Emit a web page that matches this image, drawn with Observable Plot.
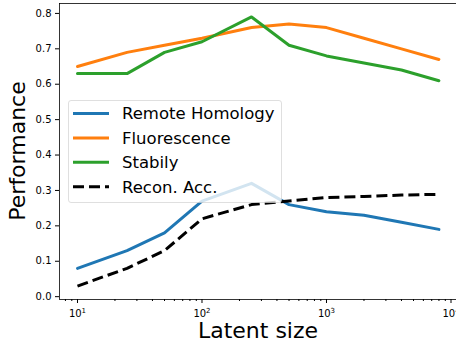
<!DOCTYPE html>
<html><head><meta charset="utf-8">
<script src="https://cdn.jsdelivr.net/npm/d3@7"></script>
<script src="https://cdn.jsdelivr.net/npm/@observablehq/plot@0.6"></script>
<style>body{margin:0;background:#fff;} #chart{width:456px;height:341px;overflow:hidden;}</style>
</head><body><div id="chart"></div>
<script>
const latentSizes = [10, 25, 50, 100, 250, 500, 1000, 2000, 4000, 8000];
const remoteHomology = [0.08, 0.13, 0.18, 0.27, 0.32, 0.26, 0.24, 0.23, 0.21, 0.19];
const fluorescence = [0.65, 0.69, 0.71, 0.73, 0.76, 0.77, 0.76, 0.73, 0.70, 0.67];
const stabily = [0.63, 0.63, 0.69, 0.72, 0.79, 0.71, 0.68, 0.66, 0.64, 0.61];
const reconAcc = [0.03, 0.08, 0.13, 0.22, 0.26, 0.27, 0.28, 0.283, 0.287, 0.289];
const seriesNames = ["Remote Homology", "Fluorescence", "Stabily", "Recon. Acc."];
const seriesColors = ["#1f77b4", "#ff7f0e", "#2ca02c", "#000000"];
const seriesDash = [null, null, null, "11,5"];
const yTicks = [0, 0.1, 0.2, 0.3, 0.4, 0.5, 0.6, 0.7, 0.8];
const xMajorTicks = [10, 100, 1000, 10000];
const xMinorTicks = [8, 9, 20, 30, 40, 50, 60, 70, 80, 90, 200, 300, 400, 500, 600, 700, 800, 900, 2000, 3000, 4000, 5000, 6000, 7000, 8000, 9000];
const xLabel = "Latent size";
const yLabel = "Performance";

const xDomain = [7.17, 11070];
const yDomain = [-0.008, 0.828];
const fmtPow = d => "10^" + Math.round(Math.log10(d));

const allSeries = [remoteHomology, fluorescence, stabily, reconAcc];
const rows = [];
allSeries.forEach((vals, i) => vals.forEach((v, j) => rows.push({series: seriesNames[i], x: latentSizes[j], y: v})));

const lineMarks = seriesNames.map((name, i) => Plot.line(rows.filter(r => r.series === name), {
  x: "x", y: "y", stroke: "series", strokeWidth: 3,
  strokeDasharray: seriesDash[i] || undefined,
  strokeLinecap: seriesDash[i] ? "butt" : "round"
}));

const chart = Plot.plot({
  width: 456, height: 341,
  marginLeft: 59, marginRight: 0, marginTop: 3, marginBottom: 42,
  style: {fontFamily: "DejaVu Sans", fontSize: "10px", color: "#000", background: "#fff"},
  x: {type: "log", domain: xDomain},
  y: {domain: yDomain},
  color: {domain: seriesNames, range: seriesColors},
  marks: [
    ...lineMarks,
    Plot.axisX({ticks: xMajorTicks, tickSize: 4, tickPadding: 6, tickFormat: fmtPow, label: null, fontSize: 10}),
    Plot.axisX({ticks: xMinorTicks, tickSize: 2, tickFormat: () => "", label: null}),
    Plot.axisY({ticks: yTicks, tickSize: 4, tickPadding: 4, tickFormat: d3.format(".1f"), label: null, fontSize: 10}),
    Plot.ruleX([xDomain[0]], {strokeWidth: 0.8}),
    Plot.ruleY([yDomain[0]], {strokeWidth: 0.8}),
    Plot.ruleY([yDomain[1]], {strokeWidth: 0.8})
  ]
});

const svg = d3.select(chart);
// superscript exponents on x tick labels
svg.selectAll("text").each(function() {
  const t = this.textContent;
  const m = /^10\^(\d+)$/.exec(t);
  if (m) {
    const el = d3.select(this);
    el.text(null);
    el.append("tspan").text("10");
    el.append("tspan").attr("font-size", 7).attr("dy", "-0.5em").text(m[1]);
  }
});
// axis titles
svg.append("text").attr("x", 258).attr("y", 338).attr("text-anchor", "middle")
  .attr("font-family", "DejaVu Sans").attr("font-size", 22).attr("fill", "#000").text(xLabel);
svg.append("text").attr("transform", "translate(25,151) rotate(-90)").attr("text-anchor", "middle")
  .attr("font-family", "DejaVu Sans").attr("font-size", 22).attr("fill", "#000").text(yLabel);

// legend
const lg = svg.append("g").attr("text-anchor", "start");
lg.append("rect").attr("x", 68.5).attr("y", 100.5).attr("width", 213).attr("height", 102).attr("rx", 2.5)
  .attr("fill", "#fff").attr("fill-opacity", 0.8).attr("stroke", "#ccc").attr("stroke-opacity", 0.8).attr("stroke-width", 0.8);
seriesNames.forEach((name, i) => {
  const cy = 113.5 + i * 24.4;
  lg.append("line").attr("x1", 73).attr("x2", 109).attr("y1", cy).attr("y2", cy)
    .attr("stroke", seriesColors[i]).attr("stroke-width", 3)
    .attr("stroke-dasharray", seriesDash[i]).attr("stroke-linecap", "butt");
  lg.append("text").attr("x", 122).attr("y", cy).attr("dy", "0.36em").attr("text-anchor", "start")
    .attr("font-family", "DejaVu Sans").attr("font-size", 16.5).attr("fill", "#000").text(name);
});

document.getElementById("chart").appendChild(chart);
</script>
</body></html>
